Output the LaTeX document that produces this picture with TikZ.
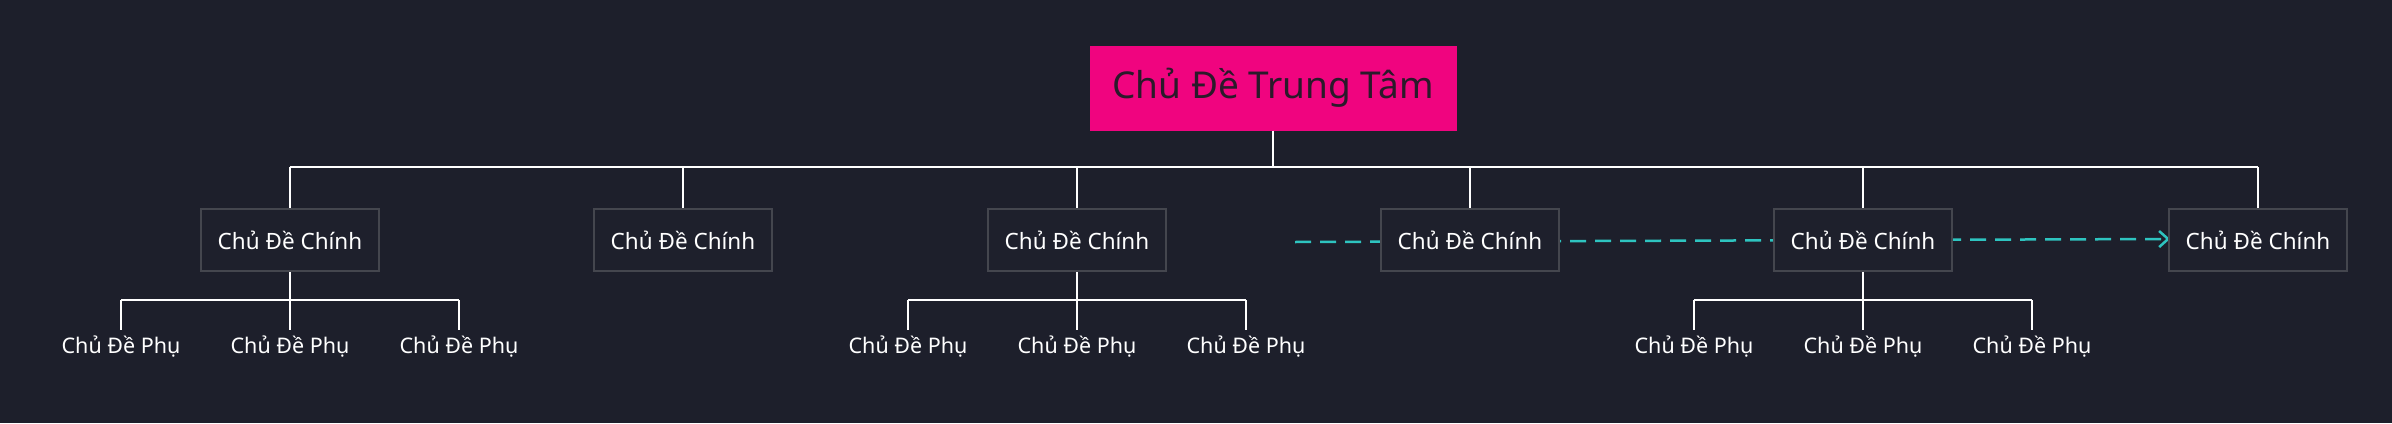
\documentclass[tikz,border=0pt]{standalone}
\usepackage{fontspec}
\setmainfont{Noto Sans}
\usetikzlibrary{arrows.meta}
\definecolor{bg}{HTML}{1D1F2B}
\definecolor{boxfill}{HTML}{1E202C}
\definecolor{boxline}{HTML}{44464E}
\definecolor{rootfill}{HTML}{F0047F}
\definecolor{rootText}{HTML}{2A1A2A}
\definecolor{teal}{HTML}{2EC4C0}
\tikzset{
  rootbox/.style={fill=rootfill, minimum width=367pt, minimum height=85pt, inner sep=0pt, text=rootText, font=\fontsize{37}{42}\selectfont},
  mainbox/.style={fill=boxfill, draw=boxline, line width=1.5pt, minimum width=178pt, minimum height=62pt, inner sep=0pt, text=white, font=\fontsize{22.5}{26}\selectfont},
  subtxt/.style={text=white, inner sep=0pt, font=\fontsize{21.5}{25}\selectfont},
  tree/.style={draw=white, line width=2pt},
  tree2/.style={draw=white, line width=1.2pt},
  rel/.style={draw=teal, line width=2.5pt, dash pattern=on 16pt off 9pt}
}
\begin{document}
\begin{tikzpicture}[x=1pt,y=-1pt]
\fill[bg] (0,0) rectangle (2392,423);
\useasboundingbox (0,0) rectangle (2392,423);
\node[rootbox] (root) at (1273,88) {Chủ Đề Trung Tâm};
\coordinate (hl) at (290,167);
\coordinate (hr) at (2258,167);
\draw[tree] (root.south) -- (1273,167);
\draw[tree] (hl) -- (hr);
\foreach \i/\x in {1/290,2/683,3/1077,4/1470,5/1863,6/2258}{
  \coordinate (t\i) at (\x,167);
  \draw[tree] (t\i) -- (\x,209);
}
% sub branches
\foreach \m/\x in {1/290,3/1077,5/1863}{
  \coordinate (b\m) at (\x,300);
  \draw[tree2] (\x,270) -- (b\m);
  \coordinate (bl\m) at (\x-169,300);
  \coordinate (br\m) at (\x+169,300);
  \draw[tree2] (bl\m) -- (br\m);
  \draw[tree2] (bl\m) -- ++(0,30);
  \draw[tree2] (b\m) -- ++(0,30);
  \draw[tree2] (br\m) -- ++(0,30);
  \node[subtxt] (s\m a) at (\x-169,347) {Chủ Đề Phụ};
  \node[subtxt] (s\m b) at (\x,347) {Chủ Đề Phụ};
  \node[subtxt] (s\m c) at (\x+169,347) {Chủ Đề Phụ};
}
\coordinate (rs) at (1295,242);
\draw[rel,-{Straight Barb[length=9pt,width=16pt]}] (rs) -- (2170,239);
\foreach \i/\x in {1/290,2/683,3/1077,4/1470,5/1863,6/2258}{
  \node[mainbox] (m\i) at (\x,240) {Chủ Đề Chính};
}
\end{tikzpicture}
\end{document}
